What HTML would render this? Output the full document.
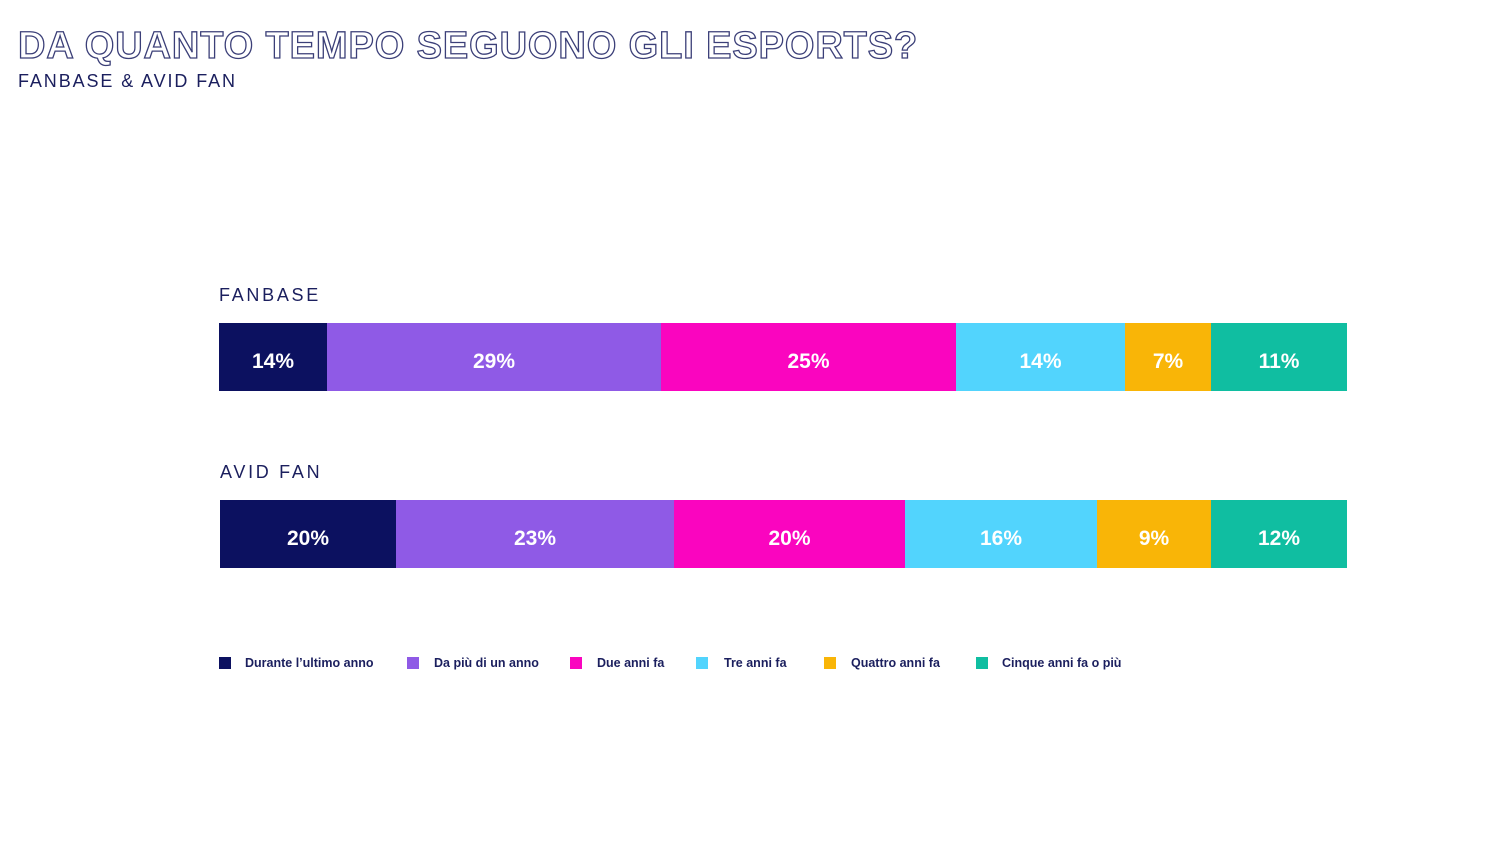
<!DOCTYPE html><html><head><style>
body{margin:0;width:1492px;height:855px;background:#fff;font-family:"Liberation Sans",sans-serif;position:relative;overflow:hidden;color:#1b1f5e}
.t{position:absolute;left:18px;top:25px;font-size:38px;font-weight:bold;letter-spacing:0.9px;color:#fff;-webkit-text-stroke:1.3px #3b3f78;white-space:nowrap}
.s{position:absolute;left:18px;top:71px;font-size:18px;letter-spacing:1.9px;color:#1b1f5e}
.lab{position:absolute;font-size:18px;letter-spacing:2.7px;color:#1b1f5e}
.seg{position:absolute;height:68px;color:#fff;font-weight:bold;font-size:21px;display:flex;align-items:center;justify-content:center;box-sizing:border-box;padding-top:9px}
.lg{position:absolute;top:657px;width:12px;height:12px}
.lt{position:absolute;top:656px;font-size:12.5px;font-weight:bold;color:#1b1f5e;white-space:nowrap}
</style></head><body>
<div class="t">DA QUANTO TEMPO SEGUONO GLI ESPORTS?</div>
<div class="s">FANBASE &amp; AVID FAN</div>
<div class="lab" style="left:219px;top:285px">FANBASE</div>
<div class="lab" style="left:220px;top:462px">AVID FAN</div>
<div class="seg" style="top:323px;left:219px;width:108px;background:#0c1160">14%</div>
<div class="seg" style="top:323px;left:327px;width:334px;background:#8f5ae6">29%</div>
<div class="seg" style="top:323px;left:661px;width:295px;background:#fa05bf">25%</div>
<div class="seg" style="top:323px;left:956px;width:169px;background:#52d4fd">14%</div>
<div class="seg" style="top:323px;left:1125px;width:86px;background:#f9b507">7%</div>
<div class="seg" style="top:323px;left:1211px;width:136px;background:#10bea1">11%</div>
<div class="seg" style="top:500px;left:220px;width:176px;background:#0c1160">20%</div>
<div class="seg" style="top:500px;left:396px;width:278px;background:#8f5ae6">23%</div>
<div class="seg" style="top:500px;left:674px;width:231px;background:#fa05bf">20%</div>
<div class="seg" style="top:500px;left:905px;width:192px;background:#52d4fd">16%</div>
<div class="seg" style="top:500px;left:1097px;width:114px;background:#f9b507">9%</div>
<div class="seg" style="top:500px;left:1211px;width:136px;background:#10bea1">12%</div>
<div class="lg" style="left:219px;background:#0c1160"></div><div class="lt" style="left:245px">Durante l’ultimo anno</div>
<div class="lg" style="left:407px;background:#8f5ae6"></div><div class="lt" style="left:434px">Da più di un anno</div>
<div class="lg" style="left:570px;background:#fa05bf"></div><div class="lt" style="left:597px">Due anni fa</div>
<div class="lg" style="left:696px;background:#52d4fd"></div><div class="lt" style="left:724px">Tre anni fa</div>
<div class="lg" style="left:824px;background:#f9b507"></div><div class="lt" style="left:851px">Quattro anni fa</div>
<div class="lg" style="left:976px;background:#10bea1"></div><div class="lt" style="left:1002px">Cinque anni fa o più</div>
</body></html>
